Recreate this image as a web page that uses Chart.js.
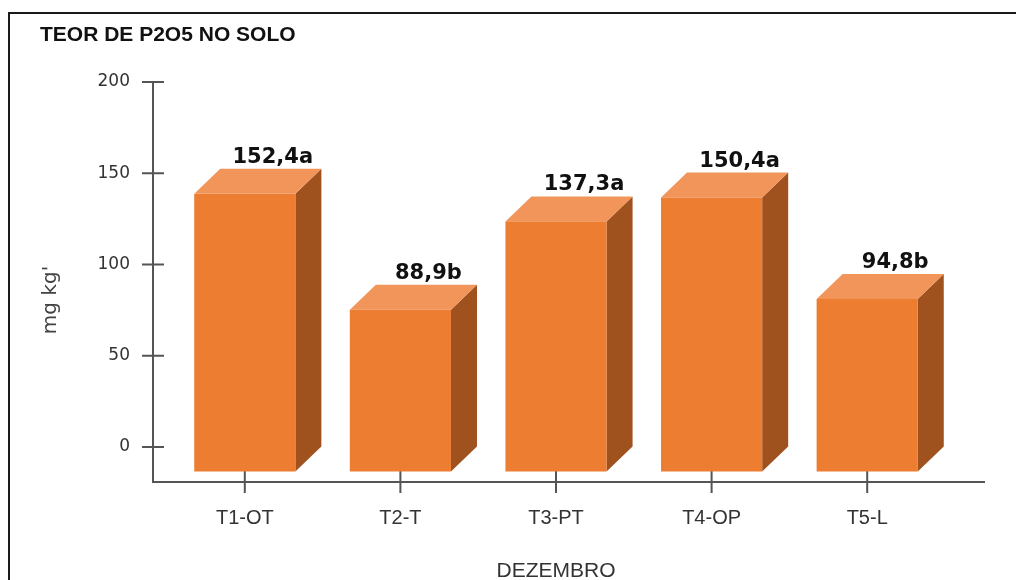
<!DOCTYPE html>
<html lang="pt">
<head>
  <meta charset="UTF-8">
  <title>Teor de P2O5 no solo</title>
  <script src="https://cdn.jsdelivr.net/npm/chart.js"></script>
  <style>
    body {
      margin: 0;
      width: 1016px;
      height: 580px;
      overflow: hidden;
      background: #fff;
      position: relative;
    }
    #frame {
      position: absolute;
      left: 8px;
      top: 12px;
      width: 1100px;
      height: 700px;
      border: 2px solid #1a1a1a;
    }
    #p2o5Chart {
      position: absolute;
      left: 0;
      top: 0;
    }
  </style>
</head>
<body>
  <div id="frame"></div>
  <canvas id="p2o5Chart" width="1016" height="580"></canvas>

  <script>
    // Dados
    const tratamentos = ['T1-OT', 'T2-T', 'T3-PT', 'T4-OP', 'T5-L'];
    const teorP2O5 = [152.4, 88.9, 137.3, 150.4, 94.8];
    const letras = ['a', 'b', 'a', 'a', 'b'];
    const ticksY = [0, 50, 100, 150, 200];

    // Cores das faces da barra
    const corFrente = '#ed7d31';
    const corTopo = '#f2955a';
    const corLado = '#9f511e';
    const corEixo = '#555555';

    // profundidade do efeito 3D
    const profX = 26;
    const profY = 25;

    const barras3d = {
      id: 'barras3d',
      beforeDatasetsDraw(chart) {
        const { ctx, chartArea: a, scales: { x, y } } = chart;
        ctx.save();

        // eixos com marcas cruzando a linha
        const ax = a.left - 14;
        const ay = a.bottom;
        ctx.strokeStyle = corEixo;
        ctx.lineWidth = 2;
        ctx.beginPath();
        ctx.moveTo(ax, a.top);
        ctx.lineTo(ax, ay);
        ctx.lineTo(a.right + 40, ay);
        y.ticks.forEach(t => {
          const py = y.getPixelForValue(t.value);
          ctx.moveTo(ax - 11, py);
          ctx.lineTo(ax + 11, py);
        });
        x.ticks.forEach((t, i) => {
          const px = x.getPixelForTick(i);
          ctx.moveTo(px, ay - 11);
          ctx.lineTo(px, ay + 11);
        });
        ctx.stroke();

        // barras
        chart.getDatasetMeta(0).data.forEach(bar => {
          const p = bar.getProps(['x', 'y', 'base', 'width'], true);
          const xl = p.x - p.width / 2;
          const xr = p.x + p.width / 2;
          const yt = p.y + profY;
          const yb = p.base + profY;

          // lado
          ctx.fillStyle = corLado;
          ctx.beginPath();
          ctx.moveTo(xr, yt);
          ctx.lineTo(xr + profX, yt - profY);
          ctx.lineTo(xr + profX, yb - profY);
          ctx.lineTo(xr, yb);
          ctx.closePath();
          ctx.fill();

          // topo
          ctx.fillStyle = corTopo;
          ctx.beginPath();
          ctx.moveTo(xl, yt);
          ctx.lineTo(xl + profX, yt - profY);
          ctx.lineTo(xr + profX, yt - profY);
          ctx.lineTo(xr, yt);
          ctx.closePath();
          ctx.fill();

          // frente
          ctx.fillStyle = corFrente;
          ctx.fillRect(xl, yt, p.width, yb - yt);
        });
        ctx.restore();
      },
      afterDatasetsDraw(chart) {
        const { ctx, chartArea: a } = chart;
        ctx.save();
        ctx.fillStyle = '#111';
        ctx.font = 'bold 21px "DejaVu Sans"';
        ctx.textAlign = 'center';
        ctx.textBaseline = 'alphabetic';
        chart.getDatasetMeta(0).data.forEach((bar, i) => {
          const texto = teorP2O5[i].toFixed(1).replace('.', ',') + letras[i];
          ctx.fillText(texto, bar.x + profX + 2, bar.y - 6);
        });

        // título do eixo y
        ctx.translate(a.left - 116, 300);
        ctx.rotate(-Math.PI / 2);
        ctx.fillStyle = '#444';
        ctx.font = '20px "DejaVu Sans"';
        ctx.textBaseline = 'middle';
        ctx.fillText("mg kg'", 0, 0);
        ctx.restore();
      }
    };

    const ctx = document.getElementById('p2o5Chart').getContext('2d');
    const grafico = new Chart(ctx, {
      type: 'bar',
      data: {
        labels: tratamentos,
        datasets: [{
          label: 'P2O5',
          data: teorP2O5,
          backgroundColor: 'rgba(0,0,0,0)',
          borderWidth: 0,
          categoryPercentage: 1,
          barPercentage: 0.65
        }]
      },
      options: {
        responsive: false,
        maintainAspectRatio: false,
        animation: false,
        devicePixelRatio: 1,
        layout: { padding: { left: 40, right: 71, top: 10, bottom: 0 } },
        plugins: {
          legend: { display: false },
          tooltip: { enabled: false },
          title: {
            display: true,
            text: 'TEOR DE P2O5 NO SOLO',
            align: 'start',
            color: '#111',
            font: { family: '"Liberation Sans", Arial', size: 21, weight: 'bold' },
            padding: { top: 13, bottom: 33.8 }
          }
        },
        scales: {
          x: {
            offset: true,
            grid: { display: true, drawOnChartArea: false, drawTicks: false },
            border: { display: false },
            ticks: {
              color: '#333',
              font: { family: '"Liberation Sans", Arial', size: 20 },
              padding: 24
            },
            title: {
              display: true,
              text: 'DEZEMBRO',
              color: '#333',
              font: { family: '"Liberation Sans", Arial', size: 21, lineHeight: 0.85 },
              padding: { top: 0, bottom: 0 }
            },
            afterFit(scale) { scale.height = 98; }
          },
          y: {
            min: -19.18,
            max: 200,
            grid: { display: true, drawOnChartArea: false, drawTicks: false },
            border: { display: false },
            ticks: {
              stepSize: 50,
              color: '#333',
              font: { family: '"DejaVu Sans"', size: 17 },
              padding: 37
            },
            afterBuildTicks(scale) {
              scale.ticks = ticksY.map(v => ({ value: v }));
            },
            afterFit(scale) { scale.width = 127; }
          }
        }
      },
      plugins: [barras3d]
    });
  </script>
</body>
</html>
